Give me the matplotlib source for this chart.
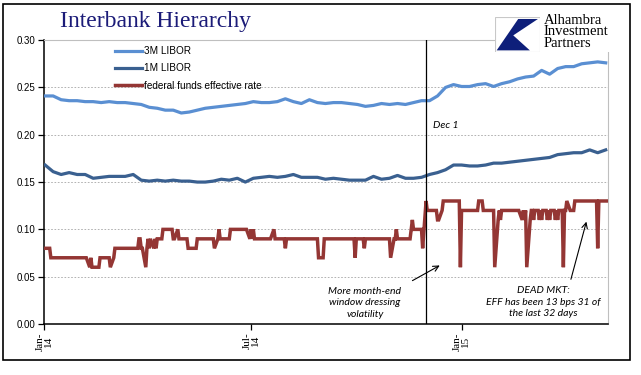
import numpy as np
import pandas as pd
import matplotlib
matplotlib.use('Agg')
from matplotlib import pyplot as plt
import matplotlib.dates as mdates
from matplotlib.patches import Rectangle, Polygon

# weekly LIBOR fixings (percent), one point a week from 2014-01-02
libor_3m = [0.241, 0.241, 0.237, 0.236, 0.236, 0.235, 0.235, 0.234, 0.235, 0.234,
            0.234, 0.233, 0.232, 0.229, 0.228, 0.226, 0.226, 0.223, 0.224, 0.226,
            0.228, 0.229, 0.230, 0.231, 0.232, 0.233, 0.235, 0.234, 0.234, 0.235,
            0.238, 0.235, 0.233, 0.237, 0.234, 0.233, 0.234, 0.234, 0.233, 0.232,
            0.230, 0.231, 0.233, 0.232, 0.233, 0.232, 0.234, 0.236, 0.236, 0.241,
            0.250, 0.253, 0.251, 0.251, 0.253, 0.254, 0.251, 0.254, 0.256, 0.259,
            0.261, 0.262, 0.268, 0.264, 0.270, 0.272, 0.272, 0.275, 0.276, 0.277,
            0.276]
libor_1m = [0.168, 0.161, 0.158, 0.160, 0.158, 0.158, 0.154, 0.155, 0.156, 0.156,
            0.156, 0.158, 0.152, 0.151, 0.152, 0.151, 0.152, 0.151, 0.151, 0.150,
            0.150, 0.151, 0.153, 0.152, 0.154, 0.150, 0.154, 0.155, 0.156, 0.155,
            0.156, 0.158, 0.155, 0.155, 0.155, 0.153, 0.154, 0.153, 0.152, 0.152,
            0.152, 0.156, 0.153, 0.154, 0.157, 0.154, 0.154, 0.155, 0.158, 0.160,
            0.163, 0.168, 0.168, 0.167, 0.167, 0.168, 0.170, 0.170, 0.171, 0.172,
            0.173, 0.174, 0.175, 0.176, 0.179, 0.180, 0.181, 0.181, 0.184, 0.181,
            0.184]

# federal funds effective rate in bps, one value per business day from 2014-01-02
eff_bps = [
    8, 8, 8, 7, 7, 7, 7, 7, 7, 7, 7, 7, 7, 7, 7, 7, 7, 7, 7, 7, 7, 7,           # Jan-14
    7, 7, 7, 7, 7, 6, 7, 6, 6, 6, 6, 6, 7, 7, 7, 7, 7, 7, 7, 6,                 # Feb
    7, 8, 8, 8, 8, 8, 8, 8, 8, 8, 8, 8, 8, 8, 8, 8, 9, 9, 8, 8, 6,              # Mar
    8, 9, 8, 9, 8, 9, 8, 9, 9, 9, 10, 10, 10, 10, 10, 10, 10, 9, 9, 10, 9, 9,   # Apr
    9, 9, 9, 9, 8, 8, 8, 8, 8, 8, 9, 9, 9, 9, 9, 9, 9, 9, 9, 9, 9, 8,           # May
    9, 10, 9, 9, 9, 9, 9, 9, 9, 10, 10, 10, 10, 10, 10, 10, 10, 10, 10, 10, 9,  # Jun
    10, 9, 10, 9, 9, 9, 9, 9, 9, 9, 9, 9, 9, 9, 10, 9, 9, 9, 9, 9, 9, 9, 8,     # Jul
    9, 9, 9, 9, 9, 9, 9, 9, 9, 9, 9, 9, 9, 9, 9, 9, 9, 9, 9, 9, 7,              # Aug
    7, 7, 9, 9, 9, 9, 9, 9, 9, 9, 9, 9, 9, 9, 9, 9, 9, 9, 9, 9, 9, 7,           # Sep
    9, 9, 9, 9, 9, 8, 9, 9, 9, 9, 9, 9, 9, 9, 9, 9, 9, 9, 9, 9, 9, 9, 7,        # Oct
    9, 9, 10, 9, 9, 9, 9, 9, 9, 9, 9, 10, 11, 10, 10, 10, 10, 10, 10, 8,        # Nov
    13, 12, 12, 12, 12, 12, 12, 12, 11, 11, 12, 13, 13, 13, 13, 13, 13, 13,
    13, 13, 13, 13, 6,                                                          # Dec
    12, 12, 12, 12, 12, 12, 12, 12, 12, 12, 12, 13, 13, 12, 12, 12, 12, 12,
    12, 12, 12, 6,                                                              # Jan-15
    11, 12, 11, 12, 12, 12, 12, 12, 12, 12, 12, 12, 12, 12, 12, 11, 12, 11,
    12, 6,                                                                      # Feb
    11, 12, 12, 11, 12, 12, 11, 12, 11, 12, 12, 11, 12, 11, 12, 12, 11, 12,
    11, 12, 12, 6,                                                              # Mar
    12, 12, 13, 12, 12, 12, 12, 13, 13, 13, 13, 13, 13, 13, 13, 13, 13, 13,
    13, 13, 13, 8,                                                              # Apr
    13, 13, 13, 13, 13, 13,                                                     # May
]

labels = ['3M LIBOR', '1M LIBOR', 'federal funds effective rate']
colors = ['#5A8FD2', '#3A6090', '#943634']
y_ticks = [0.00, 0.05, 0.10, 0.15, 0.20, 0.25, 0.30]
marker_date = pd.Timestamp('2014-12-01')

weekly = pd.date_range('2014-01-02', periods=len(libor_3m), freq='7D')
daily = pd.bdate_range('2014-01-02', periods=len(eff_bps))
eff = np.array(eff_bps) / 100.0

fig = plt.figure(figsize=(6.41, 3.75), dpi=100)
ax = fig.add_axes([0.0686, 0.136, 0.8799, 0.757])

ax.plot(weekly, libor_3m, color=colors[0], lw=2.3, label=labels[0], zorder=3)
ax.plot(weekly, libor_1m, color=colors[1], lw=2.3, label=labels[1], zorder=3)
ax.plot(daily, eff, color=colors[2], lw=2.5, label=labels[2], zorder=3,
        solid_joinstyle='miter')

ax.axvline(marker_date, color='black', lw=0.9, zorder=4)

ax.set_ylim(0, 0.30)
ax.set_xlim(pd.Timestamp('2014-01-01'), pd.Timestamp('2015-05-09'))
ax.set_yticks(y_ticks)
ax.set_yticklabels(['%.2f' % t for t in y_ticks], fontsize=7, family='Liberation Sans')
ax.xaxis.set_major_locator(mdates.MonthLocator(bymonth=[1, 7]))
ax.xaxis.set_major_formatter(mdates.DateFormatter('%b-\n%y'))
for t in ax.get_xticklabels():
    t.set_rotation(90)
    t.set_family('Liberation Serif')
    t.set_fontsize(8)
    t.set_ha('center')
    t.set_linespacing(0.9)
ax.tick_params(axis='both', direction='out', length=4, width=0.9, color='black', pad=2)

ax.yaxis.grid(True, color='#A6A6A6', lw=0.6, linestyle=(0, (2, 2)))
ax.set_axisbelow(True)
for s in ['left', 'bottom']:
    ax.spines[s].set_linewidth(1.1)
    ax.spines[s].set_color('black')
for s in ['top', 'right']:
    ax.spines[s].set_linewidth(0.8)
    ax.spines[s].set_color('#BFBFBF')

leg = ax.legend(loc='upper left', bbox_to_anchor=(0.115, 1.0), frameon=False,
                prop={'family': 'Liberation Sans', 'size': 7.2},
                handlelength=2.7, handletextpad=0.25, labelspacing=0.72, borderaxespad=0.2)

# annotations
note_font = {'family': 'Lato', 'style': 'italic', 'size': 7.5}
ax.text(0.69, 0.70, 'Dec 1', transform=ax.transAxes, ha='left', va='center', **note_font)
ax.text(0.569, 0.074, 'More month-end\nwindow dressing\nvolatility', transform=ax.transAxes,
        ha='center', va='center', linespacing=1.35, **note_font)
ax.text(0.885, 0.077, 'DEAD MKT:\nEFF has been 13 bps 31 of\nthe last 32 days',
        transform=ax.transAxes, ha='center', va='center', linespacing=1.35, **note_font)
ax.annotate('', xy=(0.706, 0.211), xytext=(0.649, 0.148), xycoords='axes fraction',
            arrowprops=dict(arrowstyle='->', lw=0.8, color='black'))
ax.annotate('', xy=(0.963, 0.370), xytext=(0.933, 0.148), xycoords='axes fraction',
            arrowprops=dict(arrowstyle='->', lw=0.8, color='black'))

# title and outer frame
fig.text(0.094, 0.943, 'Interbank Hierarchy', family='Liberation Serif', fontsize=17,
         color='#1B1B78', va='center', ha='left')
fig.patches.append(Rectangle((0.005, 0.04), 0.978, 0.949, transform=fig.transFigure,
                             fill=False, edgecolor='black', lw=1.2))

# logo
lax = fig.add_axes([0.772, 0.861, 0.070, 0.093])
lax.set_xlim(0, 1)
lax.set_ylim(0, 1)
lax.add_patch(Rectangle((0, 0), 1, 1, facecolor='white', edgecolor='#C8C8C8', lw=0.8))
lax.add_patch(Polygon([(0.52, 0.95), (0.96, 0.95), (0.41, 0.48), (0.78, 0.05), (0.04, 0.05)],
                      closed=True, facecolor='#0E1F7A', edgecolor='none'))
lax.axis('off')
fig.patches.append(Rectangle((0.842, 0.861), 0.11, 0.115, transform=fig.transFigure,
                             facecolor='white', edgecolor='none', zorder=1))
fig.text(0.848, 0.915, 'Alhambra\nInvestment\nPartners', family='Liberation Serif',
         fontsize=10.5, color='black', va='center', ha='left', linespacing=0.85)

fig.savefig('out.png', dpi=100)
